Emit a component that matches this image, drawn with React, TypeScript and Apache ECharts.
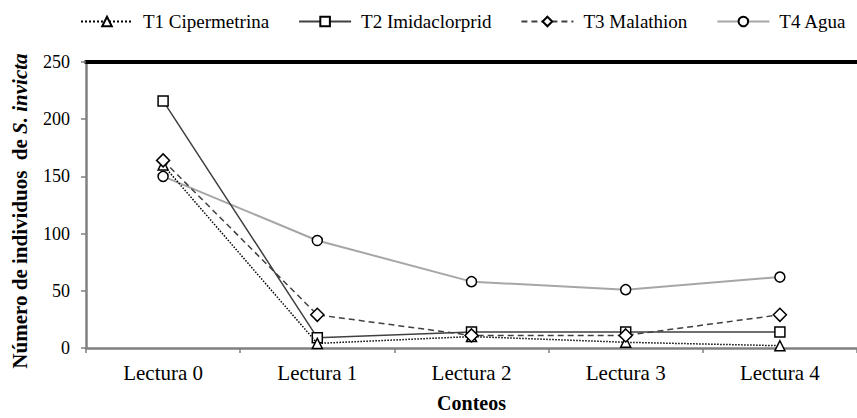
import React, { useEffect, useRef } from "react";
import * as echarts from "echarts";

const categories = ["Lectura 0", "Lectura 1", "Lectura 2", "Lectura 3", "Lectura 4"];
const t1Cipermetrina = [160, 4, 10, 5, 2];
const t2Imidaclorprid = [216, 9, 14, 14, 14];
const t3Malathion = [164, 29, 11, 11, 29];
const t4Agua = [150, 94, 58, 51, 62];
const yTicks = { min: 0, max: 250, interval: 50 };

const FONT = "Liberation Serif";

export default function App() {
  const ref = useRef<HTMLDivElement>(null);
  useEffect(() => {
    if (!ref.current) return;
    const chart = echarts.init(ref.current, undefined, { renderer: "svg" });
    const mk = (color: string, type: any, width: number) => ({
      color,
      width,
      type,
    });
    const markerStyle = { color: "#ffffff", borderColor: "#000000", borderWidth: 1.5 };
    chart.setOption({
      animation: false,
      backgroundColor: "#ffffff",
      textStyle: { fontFamily: FONT, fontSize: 18, color: "#000" },
      legend: {
        top: 12,
        left: 80,
        width: 777,
        padding: 0,
        itemWidth: 52,
        itemHeight: 12,
        itemGap: 29,
        textStyle: { fontFamily: FONT, fontSize: 19, color: "#000000", padding: [0, 0, 0, 5] },
        data: ["T1 Cipermetrina", "T2 Imidaclorprid", "T3 Malathion", "T4 Agua"],
      },
      grid: { left: 86, top: 62, width: 775, height: 291 },
      xAxis: [
        {
          type: "category",
          data: categories,
          boundaryGap: true,
          axisLine: { lineStyle: { color: "#808080", width: 2.5 } },
          axisTick: { show: true, alignWithLabel: false, length: 5, lineStyle: { color: "#808080", width: 1.5 } },
          axisLabel: { fontFamily: FONT, fontSize: 21, color: "#000000", margin: 14 },
          name: "Conteos",
          nameLocation: "middle",
          nameGap: 45,
          nameTextStyle: { fontFamily: FONT, fontSize: 20, fontWeight: "bold", color: "#000000" },
        },
        {
          type: "category",
          data: categories,
          position: "top",
          axisLine: { lineStyle: { color: "#000000", width: 4 } },
          axisTick: { show: false },
          axisLabel: { show: false },
        },
      ],
      yAxis: {
        type: "value",
        min: yTicks.min,
        max: yTicks.max,
        interval: yTicks.interval,
        axisLine: { show: true, lineStyle: { color: "#808080", width: 2.5 } },
        axisTick: { show: true, length: 5, lineStyle: { color: "#808080", width: 1.5 } },
        splitLine: { show: false },
        axisLabel: { fontFamily: FONT, fontSize: 18, color: "#000000", margin: 16 },
        name: "{b|Número de individuos  de }{bi|S. invicta}",
        nameLocation: "middle",
        nameRotate: 90,
        nameGap: 56,
        nameTextStyle: {
          padding: [0, 12, 0, 0],
          rich: {
            b: { fontFamily: FONT, fontSize: 21, fontWeight: "bold", color: "#000" },
            bi: { fontFamily: FONT, fontSize: 21, fontWeight: "bold", fontStyle: "italic", color: "#000" },
          },
        },
      },
      series: [
        {
          name: "T1 Cipermetrina",
          type: "line",
          data: t1Cipermetrina,
          symbol: "triangle",
          symbolSize: 10,
          lineStyle: mk("#000000", "dotted", 1.5),
          itemStyle: markerStyle,
          z: 4,
        },
        {
          name: "T2 Imidaclorprid",
          type: "line",
          data: t2Imidaclorprid,
          symbol: "rect",
          symbolSize: 10,
          lineStyle: mk("#404040", "solid", 1.5),
          itemStyle: markerStyle,
          z: 3,
        },
        {
          name: "T3 Malathion",
          type: "line",
          data: t3Malathion,
          symbol: "diamond",
          symbolSize: 13,
          lineStyle: mk("#404040", [6, 4], 1.5),
          itemStyle: markerStyle,
          z: 5,
        },
        {
          name: "T4 Agua",
          type: "line",
          data: t4Agua,
          symbol: "circle",
          symbolSize: 10,
          lineStyle: mk("#a6a6a6", "solid", 2),
          itemStyle: markerStyle,
          z: 2,
        },
      ],
    });
    return () => chart.dispose();
  }, []);
  return (
    <div
      ref={ref}
      style={{ position: "fixed", left: 0, top: 0, width: 857, height: 418 }}
    />
  );
}
